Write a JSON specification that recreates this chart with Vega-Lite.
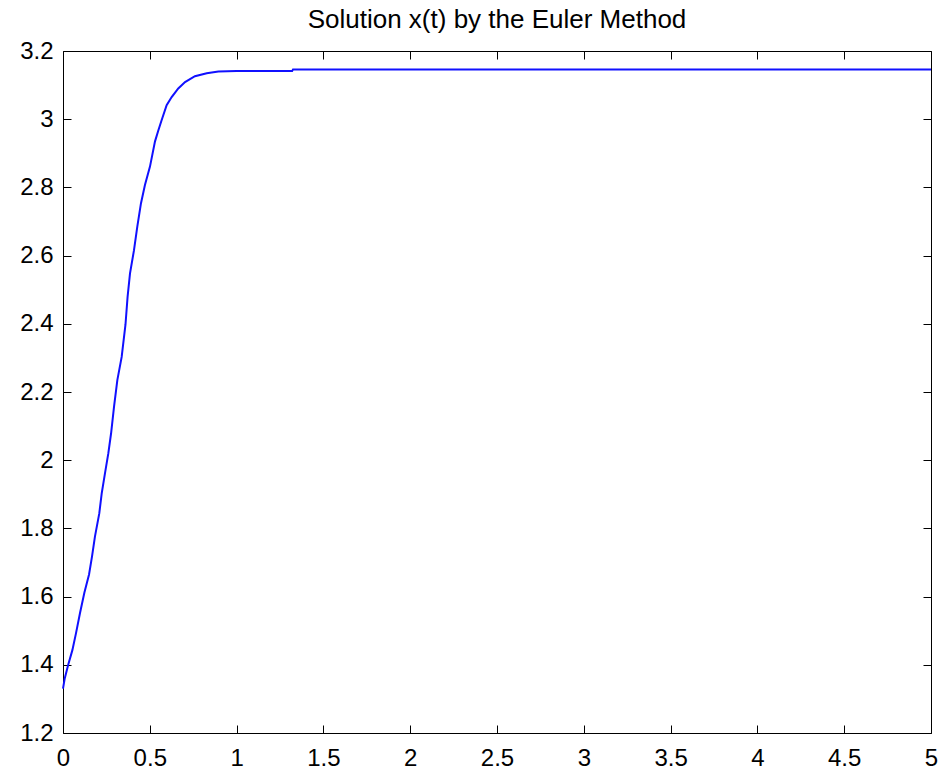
{
  "$schema": "https://vega.github.io/schema/vega-lite/v6.json",
  "width": 868,
  "height": 682,
  "autosize": {"type": "none"},
  "padding": {"left": 63, "top": 51, "right": 9, "bottom": 38},
  "background": "white",
  "title": {
    "text": "Solution x(t) by the Euler Method",
    "font": "Liberation Sans",
    "fontSize": 26,
    "fontWeight": "normal",
    "color": "black",
    "anchor": "middle",
    "frame": "group",
    "baseline": "bottom",
    "offset": 16,
    "dy": 36
  },
  "config": {
    "view": {"stroke": null},
    "axis": {
      "grid": false,
      "domainColor": "black",
      "domainWidth": 1,
      "tickColor": "black",
      "tickWidth": 1,
      "tickSize": -8,
      "labelColor": "black",
      "labelFont": "Liberation Sans",
      "labelFontSize": 24,
      "labelFlush": false,
      "title": null
    }
  },
  "data": {
    "values": [
      {"t": 0.0, "x": 1.33},
      {"t": 0.01, "x": 1.36},
      {"t": 0.03, "x": 1.40},
      {"t": 0.054, "x": 1.443},
      {"t": 0.075, "x": 1.493},
      {"t": 0.098, "x": 1.552},
      {"t": 0.123, "x": 1.611},
      {"t": 0.15, "x": 1.665},
      {"t": 0.167, "x": 1.717},
      {"t": 0.184, "x": 1.776},
      {"t": 0.209, "x": 1.844},
      {"t": 0.223, "x": 1.903},
      {"t": 0.242, "x": 1.962},
      {"t": 0.261, "x": 2.02},
      {"t": 0.277, "x": 2.079},
      {"t": 0.294, "x": 2.157},
      {"t": 0.313, "x": 2.235},
      {"t": 0.338, "x": 2.303},
      {"t": 0.36, "x": 2.398},
      {"t": 0.372, "x": 2.479},
      {"t": 0.386, "x": 2.548},
      {"t": 0.409, "x": 2.616},
      {"t": 0.428, "x": 2.685},
      {"t": 0.449, "x": 2.753},
      {"t": 0.472, "x": 2.807},
      {"t": 0.501, "x": 2.861},
      {"t": 0.53, "x": 2.935},
      {"t": 0.549, "x": 2.967},
      {"t": 0.568, "x": 2.997},
      {"t": 0.597, "x": 3.041},
      {"t": 0.626, "x": 3.065},
      {"t": 0.664, "x": 3.09},
      {"t": 0.703, "x": 3.109},
      {"t": 0.76, "x": 3.126},
      {"t": 0.828, "x": 3.135},
      {"t": 0.895, "x": 3.14},
      {"t": 1.0, "x": 3.141},
      {"t": 1.32, "x": 3.141},
      {"t": 1.325, "x": 3.146},
      {"t": 5.0, "x": 3.146}
    ]
  },
  "layer": [
    {
      "mark": {"type": "line", "strokeOpacity": 0},
      "encoding": {
        "x": {"field": "t", "type": "quantitative", "scale": {"domain": [0, 5], "nice": false, "zero": false},
              "axis": {"orient": "top", "labels": false, "values": [0, 0.5, 1, 1.5, 2, 2.5, 3, 3.5, 4, 4.5, 5]}},
        "y": {"field": "x", "type": "quantitative", "scale": {"domain": [1.2, 3.2], "nice": false, "zero": false},
              "axis": {"orient": "right", "labels": false, "values": [1.2, 1.4, 1.6, 1.8, 2, 2.2, 2.4, 2.6, 2.8, 3, 3.2]}}
      }
    },
    {
      "mark": {"type": "line", "color": "#1010ff", "strokeWidth": 2},
      "encoding": {
        "x": {"field": "t", "type": "quantitative", "scale": {"domain": [0, 5], "nice": false, "zero": false},
              "axis": {"orient": "bottom", "format": "~g", "labelPadding": 21, "values": [0, 0.5, 1, 1.5, 2, 2.5, 3, 3.5, 4, 4.5, 5]}},
        "y": {"field": "x", "type": "quantitative", "scale": {"domain": [1.2, 3.2], "nice": false, "zero": false},
              "axis": {"orient": "left", "format": "~g", "labelPadding": 18, "values": [1.2, 1.4, 1.6, 1.8, 2, 2.2, 2.4, 2.6, 2.8, 3, 3.2]}}
      }
    }
  ],
  "resolve": {"axis": {"x": "independent", "y": "independent"}}
}
